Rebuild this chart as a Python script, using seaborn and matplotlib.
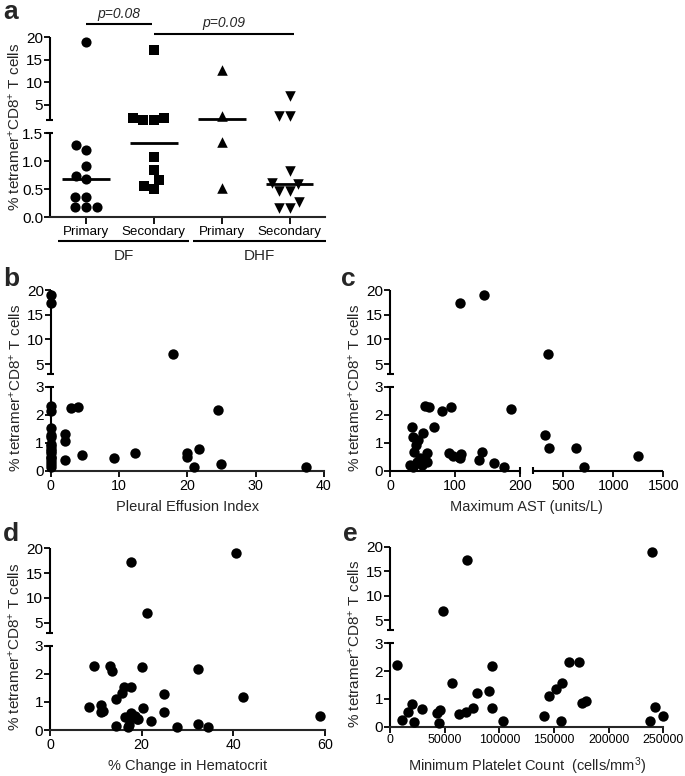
import numpy as np
import pandas as pd
import matplotlib
matplotlib.use("Agg")
import matplotlib.pyplot as plt
import seaborn as sns

# ---------------- data ----------------
# panel a
a_groups = ["DF Primary", "DF Secondary", "DHF Primary", "DHF Secondary"]
a_tick_labels = ["Primary", "Secondary", "Primary", "Secondary"]
a_df_primary = [19.0, 1.29, 1.21, 0.91, 0.74, 0.68, 0.37, 0.37, 0.18, 0.18, 0.18]
a_df_secondary = [17.2, 1.56, 2.0, 1.58, 2.05, 1.08, 0.84, 0.67, 0.56, 0.51]
a_dhf_primary = [12.7, 2.4, 1.35, 0.52]
a_dhf_secondary = [7.0, 2.4, 2.4, 0.82, 0.62, 0.60, 0.47, 0.47, 0.28, 0.17, 0.17]
a_markers = ["o", "s", "^", "v"]
a_outer_groups = ["DF", "DHF"]
a_pvalues = ["p=0.08", "p=0.09"]

# panel b: pleural effusion index
b_x = [0, 0, 17.9, 0, 0, 0, 0, 0, 0, 0, 0, 0, 0, 0, 0, 0, 0, 0,
       2.1, 2.1, 2.1, 2.9, 4.0, 4.6, 9.3, 12.3, 20, 20, 21.0, 21.7, 24.5, 24.9, 37.3]
b_y = [19.0, 17.3, 7.0, 2.33, 2.15, 1.55, 1.28, 1.2, 0.98, 0.9, 0.8, 0.7, 0.63, 0.5,
       0.45, 0.35, 0.25, 0.15,
       1.32, 1.08, 0.39, 2.25, 2.29, 0.58, 0.45, 0.65, 0.63, 0.51, 0.15, 0.78, 2.19, 0.25, 0.13]

# panel c: maximum AST
c_x = [107.7, 145, 344,
       185.6, 54, 60, 80.5, 93.8, 68.2, 33.3, 51.3, 35.9, 43.6, 40, 36.9, 56.4, 30.8, 41,
       36, 48.7, 56.4, 46, 90.8, 97.4, 106, 109, 107.7, 137.4, 141, 160.5, 175.4,
       317, 360, 624, 707, 1244]
c_y = [17.3, 19.0, 7.0,
       2.2, 2.33, 2.27, 2.15, 2.29, 1.58, 1.58, 1.34, 1.22, 1.1, 0.92, 0.69, 0.63, 0.21, 0.33,
       0.15, 0.21, 0.33, 0.45, 0.65, 0.53, 0.51, 0.6, 0.45, 0.41, 0.69, 0.27, 0.15,
       1.3, 0.83, 0.81, 0.15, 0.53]

# panel d: % change in hematocrit
d_x = [17.6, 40.5, 21.1,
       8.6, 11.1, 11.1, 11.6, 9.6, 13.2, 13.6, 20.0, 32.3, 16.1, 17.6, 15.6, 14.3, 24.9,
       24.9, 20.4, 17.7, 16.4, 17.9, 19.3, 22.0, 17.2, 14.3, 17.1, 27.7, 32.2, 34.4,
       42.2, 59.0, 18.5, 19.0]
d_y = [17.3, 19.0, 7.0,
       0.81, 0.89, 0.65, 0.68, 2.28, 2.29, 2.11, 2.25, 2.16, 1.52, 1.54, 1.33, 1.09, 1.28,
       0.63, 0.77, 0.62, 0.45, 0.45, 0.38, 0.33, 0.18, 0.14, 0.12, 0.12, 0.21, 0.12,
       1.19, 0.5, 0.5, 0.4]

# panel e: minimum platelet count
e_x = [48800, 70700, 239400,
       6700, 10700, 16800, 20400, 22000, 29000, 43300, 45700, 44800, 56400, 63400, 69500,
       76200, 79900, 90600, 93000, 93000, 103700, 141200, 145800, 151900, 157000, 156500,
       163800, 173200, 175400, 179000, 237900, 242500, 249500]
e_y = [7.0, 17.3, 19.0,
       2.22, 0.25, 0.54, 0.8, 0.18, 0.64, 0.5, 0.6, 0.15, 1.58, 0.45, 0.53,
       0.68, 1.22, 1.3, 2.18, 0.66, 0.22, 0.38, 1.12, 1.36, 1.58, 0.22,
       2.32, 2.32, 0.86, 0.94, 0.22, 0.7, 0.38]

y_label = "% tetramer$^{+}$CD8$^{+}$ T cells"
x_labels = {"b": "Pleural Effusion Index", "c": "Maximum AST (units/L)",
            "d": "% Change in Hematocrit",
            "e": "Minimum Platelet Count  (cells/mm$^{3}$)"}

# ---------------- style ----------------
sns.set_theme(style="ticks")
plt.rcParams["font.family"] = ["Liberation Sans", "DejaVu Sans"]
plt.rcParams["mathtext.fontset"] = "custom"
plt.rcParams["mathtext.rm"] = "Liberation Sans"
plt.rcParams["mathtext.it"] = "Liberation Sans:italic"
plt.rcParams["mathtext.bf"] = "Liberation Sans:bold"
plt.rcParams["axes.linewidth"] = 1.5

W, H = 685, 776
fig = plt.figure(figsize=(W / 100, H / 100), dpi=100)


def px_axes(x0, x1, ytop, ybot):
    return fig.add_axes([x0 / W, 1 - ybot / H, (x1 - x0) / W, (ybot - ytop) / H])


def broken(b, top, lo_frac, gap_frac):
    hi_frac = 1 - lo_frac - gap_frac

    def fwd(v):
        v = np.asarray(v, float)
        return np.where(v <= b, v / b * lo_frac,
                        lo_frac + gap_frac + (v - b) / (top - b) * hi_frac)

    def inv(d):
        d = np.asarray(d, float)
        return np.where(d <= lo_frac, d / lo_frac * b,
                        np.where(d < lo_frac + gap_frac, b,
                                 b + (d - lo_frac - gap_frac) / hi_frac * (top - b)))
    return fwd, inv


LW = 1.5
eps = 1e-6


def ybreak_spine(ax, b, top, wpx):
    tr = ax.get_yaxis_transform()
    kw = dict(color="black", lw=LW, clip_on=False, transform=tr, solid_capstyle="butt")
    ax.plot([0, 0], [0, b], **kw)
    ax.plot([0, 0], [b * (1 + eps), top], **kw)
    dx = 3.5 / wpx
    for yv in (b, b * (1 + eps)):
        ax.plot([-dx, dx], [yv, yv], **kw)
    ax.spines["left"].set_visible(False)


def xbreak_spine(ax, b, right, hpx):
    tr = ax.get_xaxis_transform()
    kw = dict(color="black", lw=LW, clip_on=False, transform=tr, solid_capstyle="butt")
    ax.plot([0, b], [0, 0], **kw)
    ax.plot([b * (1 + eps), right], [0, 0], **kw)
    dy = 3.5 / hpx
    for xv in (b, b * (1 + eps)):
        ax.plot([xv, xv], [-dy, dy], **kw)
    ax.spines["bottom"].set_visible(False)


def style_axes(ax):
    sns.despine(ax=ax)
    ax.tick_params(axis="both", length=4, width=1.3, color="black", pad=1.5,
                   labelcolor="black")
    ax.tick_params(axis="y", labelsize=11, pad=1)
    ax.tick_params(axis="x", labelsize=10.3)
    ax.set_facecolor("none")


ytick_vals = [0, 1, 2, 3, 5, 10, 15, 20]
ytick_labs = [str(v) for v in ytick_vals]
YLAB_FS = 11

# ---------------- panel a ----------------
axa = px_axes(50, 325, 37.3, 217.3)
a_values = [a_df_primary, a_df_secondary, a_dhf_primary, a_dhf_secondary]
dfa = pd.DataFrame({"group": np.repeat(a_groups, [len(v) for v in a_values]),
                    "value": np.concatenate(a_values)})
# medians (computed on the linear scale, before the broken scale is applied)
sns.boxplot(data=dfa, x="group", y="value", order=a_groups, showbox=False,
            showcaps=False, showfliers=False, whiskerprops={"visible": False},
            medianprops={"color": "black", "linewidth": 2}, width=0.7, ax=axa)
for g, m in zip(a_groups, a_markers):
    sub = dfa[dfa["group"] == g]
    sns.swarmplot(data=sub, x="group", y="value", order=a_groups, marker=m,
                  size=7.6 if m in "^v" else 7.3, color="black", linewidth=0,
                  ax=axa, clip_on=False, zorder=3)
axa.set_yscale("function", functions=broken(1.5, 20, 84 / 180, 13 / 180))
style_axes(axa)
axa.set_xlim(-0.53, 3.52)
axa.set_ylim(0, 20)
axa.set_yticks([0, 0.5, 1.0, 1.5, 5, 10, 15, 20])
axa.set_yticklabels(["0.0", "0.5", "1.0", "1.5", "5", "10", "15", "20"])
axa.set_xticks(range(4))
axa.set_xticklabels(a_tick_labels, fontsize=9.6)
axa.tick_params(axis="x", length=5, pad=1)
axa.set_xlabel("")
axa.set_ylabel(y_label, fontsize=YLAB_FS)
axa.yaxis.set_label_coords(-0.100, 0.5)
ybreak_spine(axa, 1.5, 20, 275)
axa.spines["bottom"].set_linewidth(LW)

xtr = axa.get_xaxis_transform()
for (x0, x1), lab in zip([(-0.41, 1.52), (1.58, 3.53)], a_outer_groups):
    axa.plot([x0, x1], [-0.13, -0.13], color="black", lw=LW, transform=xtr,
             clip_on=False, solid_capstyle="butt")
    axa.text((x0 + x1) / 2, -0.175, lab, transform=xtr, ha="center", va="top",
             fontsize=11)
for (x0, x1, yl), lab in zip([(0, 0.97, 1.072), (1.0, 3.06, 1.02)], a_pvalues):
    axa.plot([x0, x1], [yl, yl], color="black", lw=LW, transform=xtr,
             clip_on=False, solid_capstyle="butt")
    axa.text((x0 + x1) / 2, yl + 0.018, lab, transform=xtr, ha="center",
             va="bottom", fontsize=10, style="italic")

# ---------------- scatter panels ----------------
yfun = broken(3, 20, 84 / 181, 13 / 181)
specs = [
    ("b", (50.7, 324, 290, 471), b_x, b_y, (0, 40), [0, 10, 20, 30, 40]),
    ("c", (390, 663.3, 290, 471), c_x, c_y, (0, 1500), [0, 100, 200, 500, 1000, 1500]),
    ("d", (50, 325, 548.3, 730), d_x, d_y, (0, 60), [0, 20, 40, 60]),
    ("e", (390, 663.3, 546.7, 726.7), e_x, e_y, (0, 250000),
     [0, 50000, 100000, 150000, 200000, 250000]),
]
for key, box, xs, ys, xlim, xticks in specs:
    ax = px_axes(*box)
    wpx = box[1] - box[0]
    hpx = box[3] - box[2]
    ax.set_yscale("function", functions=yfun)
    if key == "c":
        ax.set_xscale("function", functions=broken(200, 1500, 130 / 273.3, 13.3 / 273.3))
    sns.scatterplot(x=xs, y=ys, ax=ax, s=56, color="black", linewidth=0,
                    clip_on=False, zorder=3)
    style_axes(ax)
    ax.set_xlim(*xlim)
    ax.set_ylim(0, 20)
    ax.set_yticks(ytick_vals)
    ax.set_yticklabels(ytick_labs)
    ax.set_xticks(xticks)
    ax.set_xticklabels([str(v) for v in xticks],
                       fontsize=8.9 if key == "e" else 10.3)
    ybreak_spine(ax, 3, 20, wpx)
    if key == "c":
        xbreak_spine(ax, 200, 1500, hpx)
    else:
        ax.spines["bottom"].set_linewidth(LW)
    ax.set_ylabel(y_label, fontsize=YLAB_FS)
    ax.yaxis.set_label_coords(-27.5 / wpx, 0.46)
    ax.set_xlabel(x_labels[key], fontsize=10.5)
    ax.xaxis.set_label_coords(0.5, -29 / hpx)

# panel letters
for lab, (x, y) in zip("abcde", [(3, 0), (3, 267), (341, 267), (3, 522), (343, 522)]):
    fig.text(x / W, 1 - y / H, lab, fontsize=19, fontweight="bold", va="top", ha="left")

fig.savefig("out.png", dpi=100)
